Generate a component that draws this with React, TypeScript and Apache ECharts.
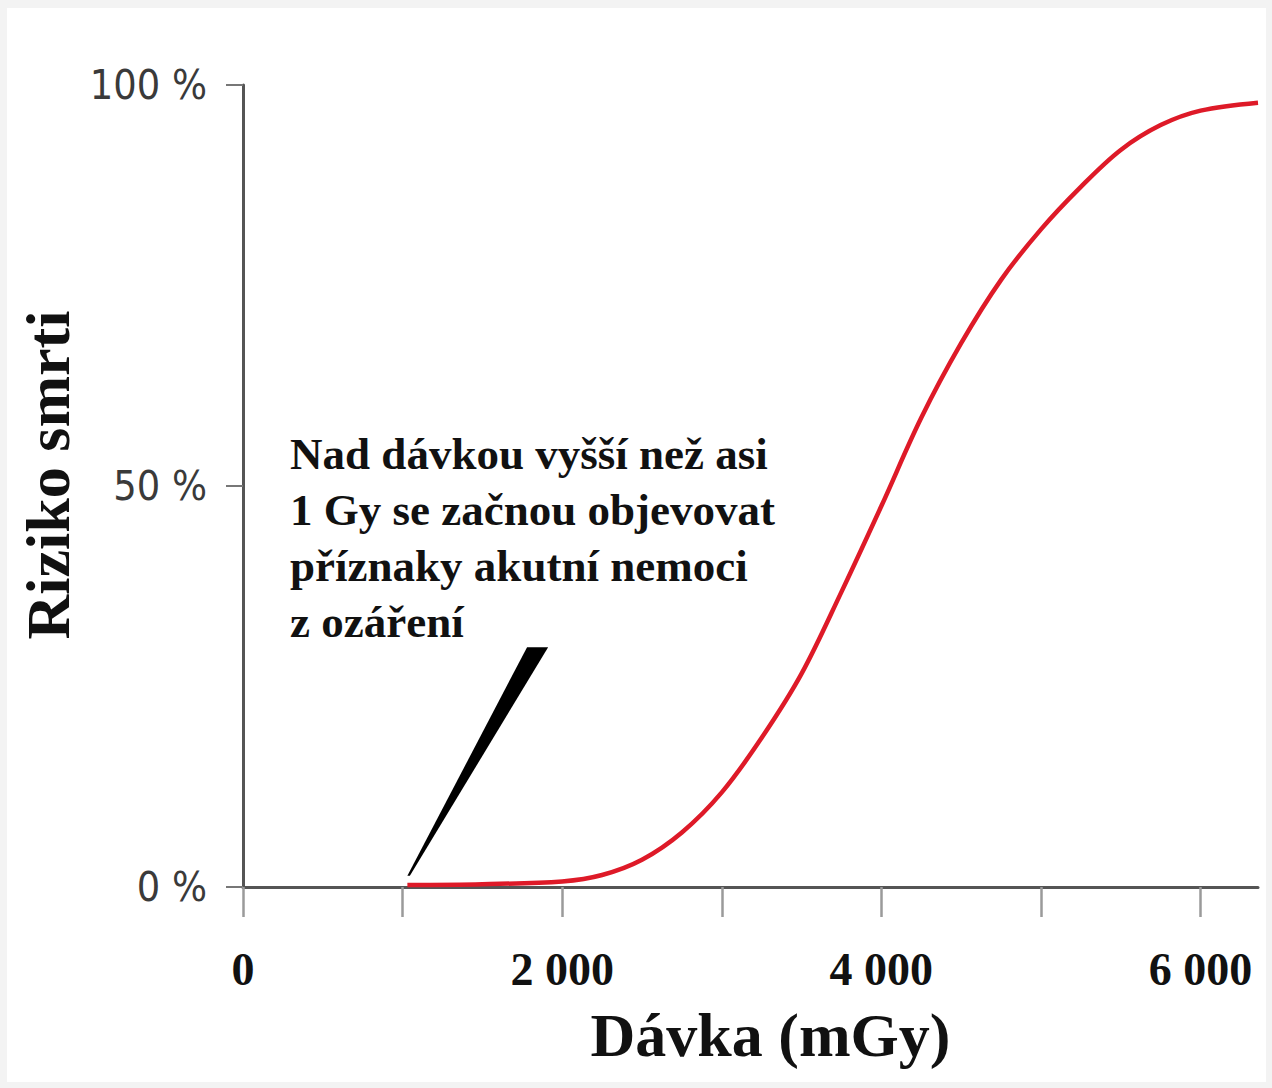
import React, { useEffect, useRef } from "react";
import * as echarts from "echarts";

// Dose in mGy
const doses = [1030, 1500, 2000, 2250, 2500, 2750, 3000, 3250, 3500, 3750, 4000, 4250, 4500, 4750, 5000, 5250, 5500, 5750, 6000, 6360];
// Risk of death in %
const risk = [0.25, 0.35, 0.7, 1.5, 3.4, 6.8, 11.8, 18.6, 26.6, 36.8, 47.5, 58.5, 67.8, 75.7, 82.0, 87.3, 91.9, 95.0, 96.8, 97.8];

const xLabelValues = [0, 2000, 4000, 6000];
const xLabelTexts = ["0", "2 000", "4 000", "6 000"];
const yTickLabels: Record<number, string> = { 0: "0 %", 50: "50 %", 100: "100 %" };

const noteLines = [
  "Nad dávkou vyšší než asi",
  "1 Gy se začnou objevovat",
  "příznaky akutní nemoci",
  "z ozáření",
];

// annotation anchors in data coordinates [dose, risk]
const arrowTip = [1030, 1.4];
const arrowBaseLeft = [1780, 29.9];
const arrowBaseRight = [1912, 29.9];
const noteAnchor = [295, 57.5];

const serif = '"Liberation Serif", "Times New Roman", serif';
const narrow = '"Liberation Sans Narrow", "DejaVu Sans Condensed", "DejaVu Sans", sans-serif';

export default function App() {
  const ref = useRef<HTMLDivElement>(null);

  useEffect(() => {
    if (!ref.current) return;
    const chart = echarts.init(ref.current, null, { renderer: "svg" });
    chart.setOption({
      animation: false,
      backgroundColor: "#ffffff",
      grid: { left: 236, top: 77, right: 8, bottom: 195, containLabel: false, outerBoundsMode: "none" },
      xAxis: {
        type: "value",
        min: 0,
        max: 6360,
        interval: 1000,
        name: "Dávka (mGy)",
        nameLocation: "middle",
        nameGap: 117,
        nameTextStyle: {
          fontFamily: serif,
          fontWeight: "bold",
          fontSize: 62,
          color: "#111",
          padding: [0, 0, 0, 40],
        },
        axisLine: { show: true, lineStyle: { color: "#555", width: 3 } },
        axisTick: { show: true, length: 30, lineStyle: { color: "#9a9a9a", width: 2.5 } },
        axisLabel: {
          margin: 59,
          showMaxLabel: false,
          fontFamily: serif,
          fontWeight: "bold",
          fontSize: 46,
          color: "#111",
          formatter: (v: number) => {
            const i = xLabelValues.indexOf(v);
            return i >= 0 ? xLabelTexts[i] : "";
          },
        },
        splitLine: { show: false },
      },
      yAxis: {
        type: "value",
        min: 0,
        max: 100,
        interval: 50,
        name: "Riziko smrti",
        nameLocation: "middle",
        nameGap: 160,
        nameTextStyle: {
          fontFamily: serif,
          fontWeight: "bold",
          fontSize: 62,
          color: "#111",
          padding: [0, 0, 0, 22],
        },
        axisLine: { show: true, lineStyle: { color: "#555", width: 3 } },
        axisTick: { show: true, length: 17, lineStyle: { color: "#777", width: 2 } },
        axisLabel: {
          margin: 36,
          fontFamily: narrow,
          fontSize: 41,
          color: "#3a3a3a",
          formatter: (v: number) => yTickLabels[v] ?? "",
        },
        splitLine: { show: false },
      },
      series: [
        {
          type: "line",
          data: doses.map((d, i) => [d, risk[i]]),
          smooth: 0.35,
          showSymbol: false,
          symbol: "none",
          lineStyle: { color: "#de1a28", width: 4.5 },
          z: 3,
        },
      ],
    });

    const p = (v: number[]) => chart.convertToPixel({ gridIndex: 0 }, v) as number[];
    const tip = p(arrowTip);
    const bl = p(arrowBaseLeft);
    const br = p(arrowBaseRight);
    const na = p(noteAnchor);

    chart.setOption({
      graphic: [
        {
          type: "polygon",
          shape: { points: [tip, [tip[0] + 2.5, tip[1]], br, bl] },
          style: { fill: "#000" },
          z: 5,
        },
        {
          type: "text",
          x: na[0],
          y: na[1],
          style: {
            text: noteLines.join("\n"),
            font: `bold 45px ${serif}`,
            lineHeight: 56,
            fill: "#111",
            verticalAlign: "top",
            align: "left",
          },
          z: 5,
        },
      ],
    });

    return () => chart.dispose();
  }, []);

  return (
    <div
      style={{
        position: "fixed",
        left: 0,
        top: 0,
        width: 1272,
        height: 1088,
        background: "#f3f3f3",
      }}
    >
      <div
        ref={ref}
        style={{ position: "absolute", left: 7, top: 8, width: 1259, height: 1074, background: "#fff" }}
      />
    </div>
  );
}
